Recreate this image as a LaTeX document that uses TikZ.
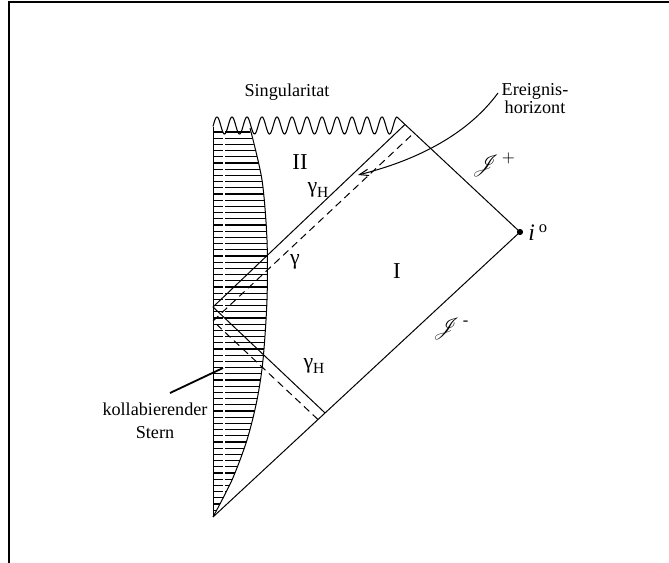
\documentclass[tikz,border=0pt]{standalone}
\usepackage{fontspec}
\setmainfont{Liberation Serif}
\usepackage{amsmath}
\usepackage{mathrsfs}
\usepackage{tikz}
\usetikzlibrary{arrows.meta,calc}
\tikzset{
  wall/.style={line width=0.55pt, black},
  ray/.style={line width=0.55pt, black},
  dashray/.style={line width=0.55pt, black, dash pattern=on 4pt off 2.6pt},
  hatch/.style={line width=0.7pt, black},
  gap/.style={line width=0.9pt, white},
  sing/.style={line width=0.6pt, black},
  frame/.style={line width=1.1pt, black},
  pointer/.style={line width=1pt, black},
  ehpointer/.style={line width=0.55pt, black, -{Straight Barb[length=5pt,width=3.5pt]}},
  lbl/.style={inner sep=0pt, font=\fontsize{10}{12.6}\selectfont},
  region/.style={inner sep=0pt, font=\fontsize{12.5}{14}\selectfont},
  glbl/.style={inner sep=0pt, font=\fontsize{12}{14}\selectfont},
  scri/.style={inner sep=0pt, font=\fontsize{13}{15}\selectfont}
}
\newcommand{\subH}{\raisebox{-0.45ex}{\fontsize{8.5}{9}\selectfont H}}

\begin{document}
\begin{tikzpicture}[x=0.55pt,y=-0.55pt]
  \useasboundingbox (0,0) rectangle (669,563);
  % frame
  \draw[frame] (9,563) -- (9,2) -- (669,2);

  % corners of the diagram
  \coordinate (pbot) at (213,517);
  \coordinate (izero) at (520,232);
  \coordinate (iplus) at (397,117);
  \coordinate (sleft) at (213,127);
  \coordinate (hcen) at (213,307);
  \coordinate (gcen) at (213,321);
  \coordinate (htop) at ($(iplus)!0.065!(izero)$);
  \coordinate (gtop) at ($(iplus)!0.138!(izero)$);
  \coordinate (hin) at ($(pbot)!0.365!(izero)$);
  \coordinate (gin) at ($(pbot)!0.342!(izero)$);

  % collapsing star, hatched
  \begin{scope}
    \clip (213,517) -- (213,131) -- (250,131) -- plot[smooth] coordinates {(250,131) (262,180) (267,240) (267,300) (263,360) (257,400) (247,440) (232,480) (213,517)} -- cycle;
    \foreach \hy in {132,138.2,...,516}
      \draw[hatch] (213,\hy) -- (280,\hy);
    \draw[gap] (224,125) -- (224,520);
  \end{scope}
  \draw[wall] plot[smooth] coordinates {(250,128) (262,180) (267,240) (267,300) (263,360) (257,400) (247,440) (232,480) (213,517)};
  \draw[wall] (pbot) -- (sleft);

  % singularity
  \draw[sing] plot[domain=213:397, samples=300] (\x,{125.5-8.5*sin(90+(\x-217)*24)});

  % boundaries and light rays
  \draw[ray] (pbot) -- (izero) -- (iplus);
  \draw[ray] (hin) -- (hcen) -- (htop);
  \draw[dashray] (gin) -- (gcen) -- (gtop);
  \fill (izero) circle[radius=1.7pt];

  % labels
  \node[lbl] (singlbl) at (287,92) {Singularitat};
  \node[lbl, align=center, font=\fontsize{10}{9.9}\selectfont] (ehlbl) at (535,99) {Ereignis-\\horizont};
  \node[lbl, align=center] (starlbl) at (155,421) {kollabierender\\Stern};
  \node[region] (rtwo) at (300,162) {II};
  \node[region] (rone) at (397,271) {I};
  \node[glbl] (ghup) at (318,190) {γ\subH};
  \node[glbl] (gam) at (295,262) {γ};
  \node[glbl] (ghlow) at (314,366) {γ\subH};
  \node[scri] (jplus) at (494,165) {$\mathscr{J}^{\,+}$};
  \node[scri] (jminus) at (451,329) {$\mathscr{J}^{\,\text{-}}$};
  \node[scri, anchor=west] (izlbl) at (528,233) {\textit{i}\,\textsuperscript{o}};

  % pointers
  \coordinate (ehA) at (498,93);
  \coordinate (ehB) at (358,175);
  \draw[ehpointer] (ehA) .. controls (465,138) and (410,162) .. (ehB);
  \coordinate (ptrA) at (170,393);
  \coordinate (ptrB) at (223,368);
  \draw[pointer] (ptrA) -- (ptrB);
\end{tikzpicture}
\end{document}
